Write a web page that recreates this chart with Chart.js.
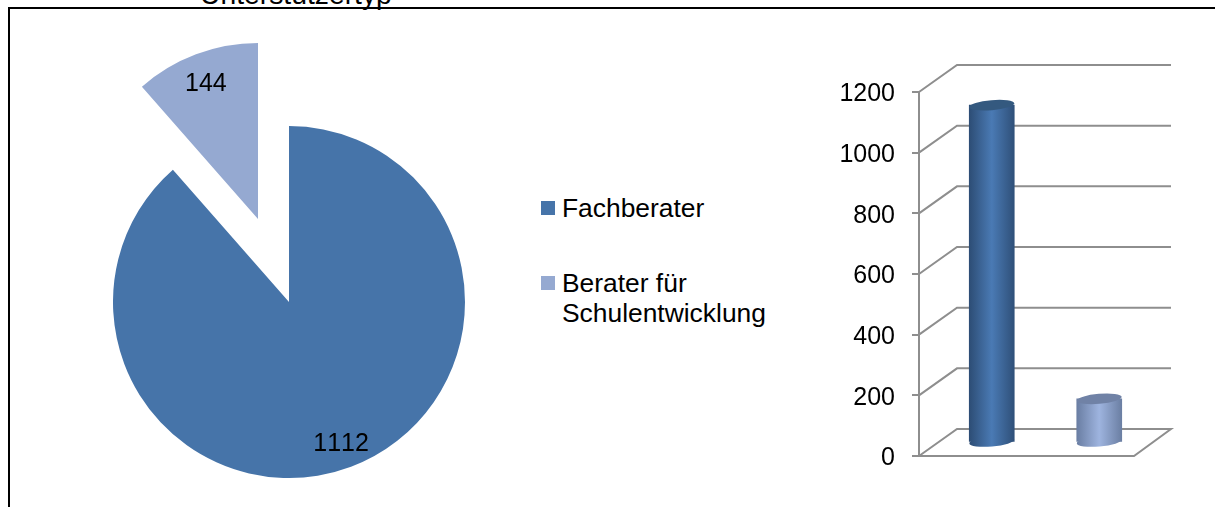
<!DOCTYPE html>
<html>
<head>
<meta charset="utf-8">
<script src="https://cdn.jsdelivr.net/npm/chart.js@4"></script>
<style>
html, body { margin: 0; padding: 0; background: #fff; }
body { width: 1215px; height: 507px; position: relative; overflow: hidden; font-family: "Liberation Sans", Arial, sans-serif; color: #000; }
.box { position: absolute; }
#frameTop { left: 8px; top: 7px; width: 1207px; height: 2px; background: #000; }
#frameLeft { left: 8px; top: 7px; width: 2px; height: 500px; background: #000; }
#title { left: 200px; top: -20px; font-size: 28.3px; line-height: 28px; white-space: nowrap; font-kerning: none; }
.swatch { position: absolute; width: 14px; height: 14px; }
.legendText { position: absolute; left: 562px; font-size: 26.4px; line-height: 30px; white-space: nowrap; }
</style>
</head>
<body>
<div class="box" id="frameTop"></div>
<div class="box" id="frameLeft"></div>
<div class="box" id="title">Unterstützertyp</div>
<canvas class="box" id="pieMain" style="left:113px;top:126px"></canvas>
<canvas class="box" id="pieCut" style="left:82px;top:43px"></canvas>
<canvas class="box" id="bars" style="left:820px;top:0"></canvas>
<div class="swatch" style="left:541px;top:201px;background:#4674a9"></div>
<div class="legendText" style="top:193px">Fachberater</div>
<div class="swatch" style="left:541px;top:276px;background:#95a9d1"></div>
<div class="legendText" style="top:268px">Berater für<br>Schulentwicklung</div>
<script>
const categories = ['Fachberater', 'Berater für Schulentwicklung'];
const values = [1112, 144];
const tickValues = [0, 200, 400, 600, 800, 1000, 1200];

const pieColors = ['#4674a9', '#95a9d1'];
const gridColor = '#8e8e8e';
const depthX = 38, depthY = 27;

// value label near the outer edge of the visible slice
const sliceLabels = {
    id: 'sliceLabels',
    afterDatasetsDraw(chart, args, opts) {
        const arc = chart.getDatasetMeta(0).data[opts.index];
        const mid = (arc.startAngle + arc.endAngle) / 2;
        const c = chart.ctx;
        c.save();
        c.font = '25px "Liberation Sans", Arial, sans-serif';
        c.fontKerning = 'none';
        c.fillStyle = '#000';
        c.textAlign = 'center';
        c.textBaseline = 'middle';
        c.fillText(values[opts.index], arc.x + Math.cos(mid) * arc.outerRadius * 0.84, arc.y + Math.sin(mid) * arc.outerRadius * 0.84 + 3.5);
        c.restore();
    }
};

function makePie(id, index) {
    const canvas = document.getElementById(id);
    canvas.width = 352;
    canvas.height = 352;
    return new Chart(canvas, {
        type: 'pie',
        data: {
            labels: categories,
            datasets: [{
                data: values,
                backgroundColor: pieColors.map((col, i) => i === index ? col : 'rgba(0,0,0,0)'),
                borderWidth: 0
            }]
        },
        options: {
            responsive: false,
            animation: false,
            plugins: {
                legend: { display: false },
                tooltip: { enabled: false },
                sliceLabels: { index: index }
            }
        },
        plugins: [sliceLabels]
    });
}
makePie('pieMain', 0);
makePie('pieCut', 1);

// back wall, side wall and floor of the fake 3d box
const wall = {
    id: 'wall',
    beforeDatasetsDraw(chart) {
        const c = chart.ctx, y = chart.scales.y, a = chart.chartArea;
        c.save();
        c.strokeStyle = gridColor;
        c.lineWidth = 2;
        tickValues.forEach(v => {
            const py = y.getPixelForValue(v);
            c.beginPath();
            c.moveTo(a.left, py);
            c.lineTo(a.left + depthX, py - depthY);
            c.lineTo(a.right + depthX - 1, py - depthY);
            if (v === 0) {
                c.lineTo(a.right, py);
                c.lineTo(a.left, py);
            }
            c.stroke();
        });
        c.restore();
    }
};

function tiltedEllipse(c, x, y, w) {
    c.beginPath();
    c.ellipse(x, y, w / 2, 5, -5 * Math.PI / 180, 0, Math.PI * 2);
}

// cylinders: the bars are pushed half way into the box, then capped
const cylinder = {
    id: 'cylinder',
    beforeDatasetsDraw(chart) {
        const c = chart.ctx;
        c.save();
        c.translate(depthX / 2, -depthY / 2);
        chart.getDatasetMeta(0).data.forEach((bar, i) => {
            tiltedEllipse(c, bar.x, bar.base, bar.width);
            c.fillStyle = barGradient(chart, i);
            c.fill();
        });
    },
    afterDatasetsDraw(chart) {
        const c = chart.ctx;
        chart.getDatasetMeta(0).data.forEach((bar, i) => {
            tiltedEllipse(c, bar.x, bar.y, bar.width);
            c.fillStyle = ['#34597f', '#7082a6'][i];
            c.fill();
        });
        c.restore();
    }
};

const barStops = [['#2d4d75', '#4a7ab4', '#2f5079'], ['#6a7ea3', '#9eb4df', '#6b7fa3']];

function barGradient(chart, i) {
    const x = chart.scales.x.getPixelForValue(i);
    // style lookups can come in before the layout has run
    if (!Number.isFinite(x)) return barStops[i || 0][1];
    const g = chart.ctx.createLinearGradient(x - 22.5, 0, x + 22.5, 0);
    g.addColorStop(0, barStops[i][0]);
    g.addColorStop(0.5, barStops[i][1]);
    g.addColorStop(1, barStops[i][2]);
    return g;
}

const barCanvas = document.getElementById('bars');
barCanvas.width = 395;
barCanvas.height = 507;
new Chart(barCanvas, {
    type: 'bar',
    data: {
        labels: categories,
        datasets: [{
            data: values,
            barThickness: 45,
            borderWidth: 0,
            clip: false,
            backgroundColor: ctx => barGradient(ctx.chart, ctx.dataIndex)
        }]
    },
    options: {
        responsive: false,
        animation: false,
        layout: { padding: { top: 92, right: 81, bottom: 51, left: 0 } },
        plugins: { legend: { display: false }, tooltip: { enabled: false } },
        scales: {
            x: { display: false },
            y: {
                min: 0,
                max: 1200,
                afterBuildTicks: axis => { axis.ticks = tickValues.map(v => ({ value: v })); },
                afterFit: axis => { axis.width = 99; },
                border: { color: gridColor, width: 2 },
                grid: { drawOnChartArea: false, color: gridColor, lineWidth: 2, tickLength: 7 },
                ticks: {
                    color: '#000',
                    padding: 17,
                    labelOffset: 2.5,
                    callback: v => String(v),
                    font: { family: '"Liberation Sans", Arial, sans-serif', size: 25 }
                }
            }
        }
    },
    plugins: [wall, cylinder]
});
</script>
</body>
</html>
